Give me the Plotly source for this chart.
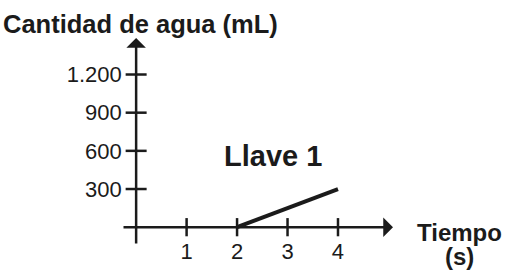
import plotly.graph_objects as go

# data
x_ticks = [1, 2, 3, 4]
x_tick_labels = ["1", "2", "3", "4"]
y_ticks = [300, 600, 900, 1200]
y_tick_labels = ["300", "600", "900", "1.200"]
tiempo = [2, 4]
agua = [0, 300]

INK = "#1b1b1b"
FONT = "Liberation Sans, Arial, sans-serif"
x_range = [-0.28, 5.09]
y_range = [-140, 1487]

fig = go.Figure()

# data line
fig.add_trace(go.Scatter(x=tiempo, y=agua, mode="lines",
                         line=dict(color=INK, width=4), hoverinfo="skip"))
# crossing tick marks
fig.add_trace(go.Scatter(x=x_ticks, y=[0] * len(x_ticks), mode="markers",
                         marker=dict(symbol="line-ns", size=13,
                                     line=dict(color=INK, width=2.5)),
                         hoverinfo="skip"))
fig.add_trace(go.Scatter(x=[0] * len(y_ticks), y=y_ticks, mode="markers",
                         marker=dict(symbol="line-ew", size=15,
                                     line=dict(color=INK, width=2.5)),
                         hoverinfo="skip"))

# axes with arrowheads
fig.add_annotation(x=x_range[1], y=0, ax=x_range[0], ay=0, xref="x", yref="y",
                   axref="x", ayref="y", text="", showarrow=True,
                   arrowhead=1, arrowsize=1.3, arrowwidth=2.5, arrowcolor=INK)
fig.add_annotation(x=0, y=y_range[1], ax=0, ay=y_range[0], xref="x", yref="y",
                   axref="x", ayref="y", text="", showarrow=True,
                   arrowhead=1, arrowsize=1.3, arrowwidth=2.5, arrowcolor=INK)

# texts
fig.add_annotation(text="<b>Cantidad de agua (mL)</b>", xref="paper", yref="paper",
                   x=-0.447, y=1.068, xanchor="left", yanchor="middle",
                   showarrow=False, font=dict(size=25.5, color=INK, family=FONT))
fig.add_annotation(text="<b>Tiempo</b>", xref="paper", yref="paper",
                   x=1.247, y=0.062, xanchor="center", yanchor="middle",
                   showarrow=False, font=dict(size=24, color=INK, family=FONT))
fig.add_annotation(text="<b>(s)</b>", xref="paper", yref="paper",
                   x=1.247, y=-0.054, xanchor="center", yanchor="middle",
                   showarrow=False, font=dict(size=24, color=INK, family=FONT))
fig.add_annotation(text="<b>Llave 1</b>", xref="x", yref="y",
                   x=2.71, y=560, xanchor="center", yanchor="middle",
                   showarrow=False, font=dict(size=29, color=INK, family=FONT))

y0_frac = (0 - y_range[0]) / (y_range[1] - y_range[0])
x0_frac = (0 - x_range[0]) / (x_range[1] - x_range[0])

fig.update_layout(
    width=505, height=272,
    margin=dict(l=122, r=112, t=38, b=27, autoexpand=False),
    paper_bgcolor="white", plot_bgcolor="white",
    showlegend=False,
    font=dict(family=FONT, size=22, color=INK),
    xaxis=dict(range=x_range, showgrid=False, zeroline=False, showline=False,
               tickvals=x_ticks, ticktext=x_tick_labels, ticks="outside",
               ticklen=4, tickcolor="rgba(0,0,0,0)", automargin=False,
               anchor="free", position=y0_frac, fixedrange=True),
    yaxis=dict(range=y_range, showgrid=False, zeroline=False, showline=False,
               tickvals=y_ticks, ticktext=y_tick_labels, ticks="outside",
               ticklen=10, tickcolor="rgba(0,0,0,0)", automargin=False,
               anchor="free", position=x0_frac, fixedrange=True),
)

fig.write_html("out.html", config={"displayModeBar": False},
               post_script="document.body.style.margin='0';document.body.style.overflow='hidden';")
